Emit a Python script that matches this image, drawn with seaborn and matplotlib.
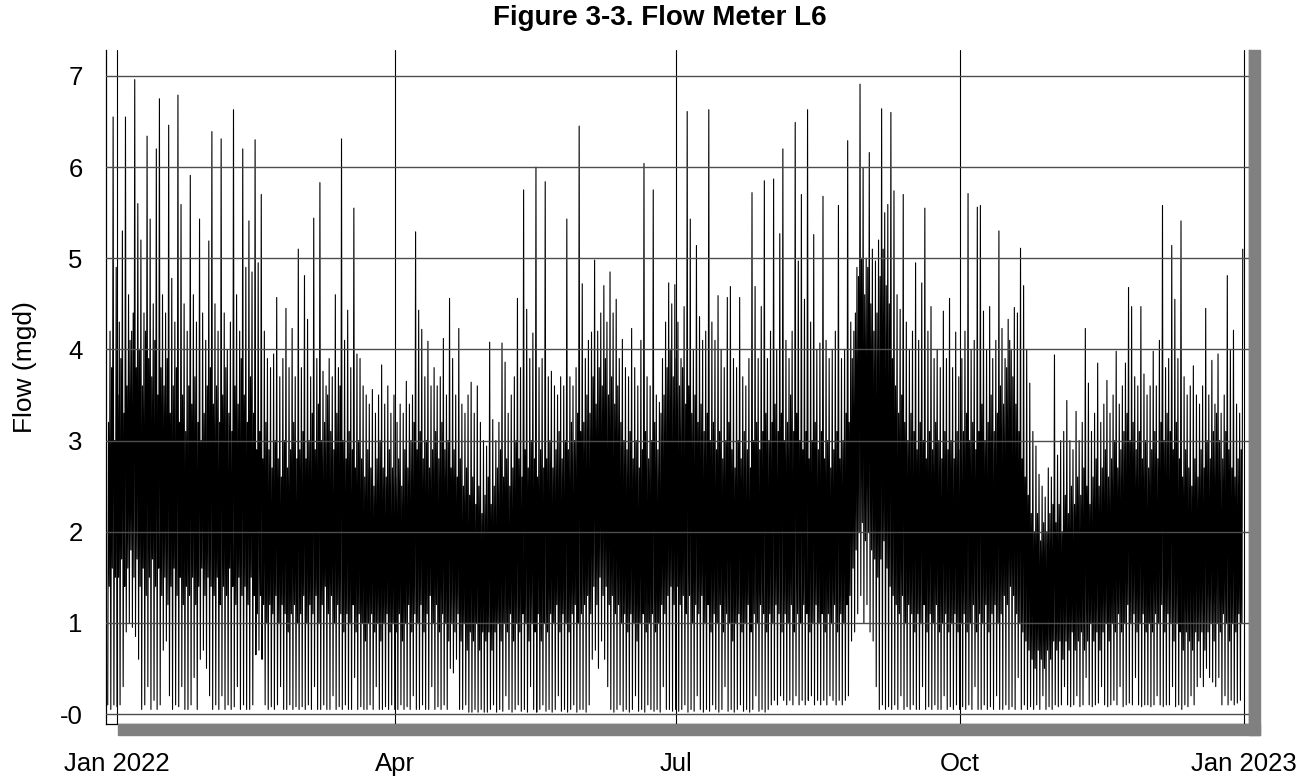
import matplotlib
matplotlib.use("Agg")
import matplotlib.pyplot as plt
import matplotlib.dates as mdates
from matplotlib.patches import Rectangle
from matplotlib.ticker import MultipleLocator, FuncFormatter
import seaborn as sns
import pandas as pd

# ---------------- data ----------------
start_date = "2021-12-29"

# daily maximum flow (mgd)
peak_dec21 = [4.2, 6.55, 4.9]
peak_jan = [4.3, 5.3, 6.55, 4.6, 4.2, 6.96, 5.6, 5.2, 4.4, 6.34, 5.43, 4.5, 6.2, 6.75, 4.6, 4.4,
            6.46, 4.78, 4.3, 6.79, 5.59, 4.5, 4.2, 5.91, 4.6, 4.3, 5.43, 4.4, 4.1, 5.19, 6.39]
peak_feb = [4.5, 4.2, 6.31, 4.4, 4.0, 4.3, 6.63, 4.6, 4.2, 6.2, 4.9, 5.41, 4.85, 6.3, 4.95, 5.7,
            4.2, 3.9, 3.8, 3.95, 4.57, 3.7, 3.9, 4.45, 3.8, 4.23, 3.7, 5.1]
peak_mar = [3.8, 4.81, 4.33, 3.7, 5.44, 3.9, 5.83, 3.76, 3.6, 3.9, 3.7, 4.6, 3.8, 6.31, 4.1, 4.43,
            3.8, 5.55, 3.95, 3.9, 3.6, 3.5, 3.4, 3.56, 3.3, 3.5, 3.83, 3.4, 3.6, 3.3, 3.5]
peak_apr = [3.2, 3.4, 3.3, 3.65, 3.4, 3.5, 5.29, 4.43, 4.22, 3.7, 4.09, 3.6, 3.8, 3.6, 3.7, 4.12,
            3.5, 4.56, 3.9, 3.5, 4.23, 3.4, 3.3, 3.5, 3.64, 3.3, 3.6, 3.2, 3.0, 2.94]
peak_may = [4.08, 3.23, 3.0, 3.2, 4.07, 3.86, 3.3, 3.5, 3.7, 4.56, 3.8, 5.75, 4.44, 3.9, 4.18, 6.0,
            3.8, 3.9, 5.84, 3.7, 3.76, 3.6, 3.5, 3.7, 3.6, 5.43, 3.7, 3.6, 3.8, 6.45, 4.72]
peak_jun = [3.9, 4.1, 4.19, 4.98, 4.2, 4.4, 4.7, 4.3, 4.85, 4.4, 4.55, 3.9, 4.11, 3.8, 3.7, 4.23,
            3.8, 3.6, 4.1, 6.04, 3.7, 3.6, 5.75, 3.5, 3.42, 3.9, 4.3, 4.73, 4.5, 4.71]
peak_jul = [4.3, 3.9, 4.47, 6.61, 5.43, 4.0, 5.14, 4.36, 4.1, 4.2, 6.63, 4.3, 4.1, 4.59, 4.0, 3.8,
            4.57, 4.69, 3.9, 3.8, 4.57, 3.7, 3.6, 3.9, 5.72, 4.69, 3.9, 4.47, 5.85, 3.9, 4.2]
peak_aug = [5.87, 4.0, 5.27, 6.2, 4.1, 3.9, 4.2, 6.49, 4.97, 5.7, 4.55, 6.63, 4.3, 5.26, 4.0, 4.07,
            5.68, 4.1, 3.9, 4.0, 4.2, 5.58, 3.9, 4.0, 6.29, 4.3, 4.2, 4.9, 6.91, 5.99, 5.0]
peak_sep = [6.16, 5.1, 4.97, 5.2, 6.64, 5.5, 5.59, 6.6, 5.74, 4.6, 4.44, 5.7, 4.3, 4.0, 4.2, 4.95,
            4.1, 4.73, 5.55, 4.2, 4.47, 3.9, 4.0, 3.8, 4.42, 3.9, 4.56, 3.8, 4.19, 3.7]
peak_oct = [3.9, 4.2, 5.71, 4.0, 4.1, 5.56, 5.58, 4.42, 4.0, 4.47, 3.9, 4.1, 5.3, 4.23, 3.9, 4.33,
            4.0, 4.46, 4.4, 5.11, 4.7, 4.0, 3.63, 3.1, 2.94, 2.63, 2.5, 2.38, 2.7, 2.6, 3.94]
peak_nov = [2.84, 3.0, 3.1, 3.44, 3.0, 2.9, 3.32, 3.0, 3.2, 4.23, 3.63, 3.1, 3.3, 3.85, 3.2, 3.4,
            3.66, 3.3, 3.5, 3.98, 3.4, 3.6, 3.85, 4.68, 4.47, 3.7, 3.6, 4.47, 3.73, 3.5]
peak_dec = [3.6, 3.98, 3.6, 4.1, 5.58, 3.8, 3.9, 5.14, 4.55, 3.9, 5.41, 3.7, 3.5, 3.6, 3.82, 3.5,
            3.4, 3.6, 4.45, 3.5, 3.88, 3.4, 3.95, 3.3, 3.5, 4.81, 4.0, 4.21, 3.4, 3.3, 5.1]

# daily minimum flow (mgd)
low_dec21 = [0.1, 0.05, 0.1]
low_jan = [0.08, 0.1, 0.3, 0.9, 1.0, 0.95, 0.85, 0.6, 0.05, 0.1, 0.3, 0.05, 0.15, 0.05, 0.1, 0.7,
           0.8, 0.2, 0.05, 0.1, 0.08, 0.3, 0.05, 0.05, 0.1, 0.4, 0.05, 0.6, 0.7, 0.5, 0.2]
low_feb = [0.05, 0.1, 0.05, 0.2, 0.05, 0.1, 0.05, 0.08, 0.3, 0.05, 0.1, 0.05, 0.05, 0.1, 0.65, 0.7,
           0.6, 0.1, 0.05, 0.08, 0.05, 0.1, 0.3, 0.05, 0.05, 0.1, 0.05, 0.08]
low_mar = [0.05, 0.08, 0.05, 0.1, 0.05, 0.3, 0.05, 0.05, 0.1, 0.05, 0.05, 0.2, 0.05, 0.08, 0.05, 0.1,
           0.05, 0.05, 0.4, 0.05, 0.08, 0.05, 0.05, 0.1, 0.05, 0.3, 0.05, 0.05, 0.08, 0.05, 0.1]
low_apr = [0.05, 0.05, 0.1, 0.05, 0.08, 0.05, 0.2, 0.05, 0.05, 0.1, 0.05, 0.05, 0.3, 0.05, 0.08, 0.05,
           0.1, 0.05, 0.5, 0.45, 0.6, 0.05, 0.05, 0.1, 0.02, 0.02, 0.05, 0.02, 0.05, 0.02]
low_may = [0.02, 0.05, 0.1, 0.02, 0.05, 0.03, 0.2, 0.05, 0.02, 0.05, 0.1, 0.03, 0.05, 0.02, 0.3, 0.05,
           0.02, 0.05, 0.1, 0.03, 0.05, 0.02, 0.05, 0.2, 0.03, 0.05, 0.02, 0.05, 0.1, 0.02, 0.05]
low_jun = [0.05, 0.02, 0.1, 0.6, 0.7, 0.5, 0.8, 0.6, 0.3, 0.05, 0.02, 0.05, 0.1, 0.03, 0.05, 0.02,
           0.05, 0.2, 0.03, 0.05, 0.02, 0.1, 0.05, 0.03, 0.05, 0.02, 0.3, 0.05, 0.05, 0.03]
low_jul = [0.05, 0.03, 0.05, 0.1, 0.02, 0.05, 0.03, 0.2, 0.05, 0.02, 0.05, 0.03, 0.1, 0.05, 0.02, 0.05,
           0.3, 0.03, 0.05, 0.02, 0.05, 0.1, 0.03, 0.05, 0.02, 0.05, 0.2, 0.03, 0.05, 0.02, 0.05]
low_aug = [0.1, 0.15, 0.1, 0.2, 0.15, 0.1, 0.15, 0.1, 0.2, 0.1, 0.15, 0.1, 0.15, 0.2, 0.1, 0.15,
           0.1, 0.15, 0.1, 0.2, 0.15, 0.1, 0.15, 0.1, 0.15, 0.2, 0.8, 0.9, 1.1, 1.3, 1.0]
low_sep = [1.2, 0.9, 0.8, 0.3, 0.05, 0.1, 0.05, 0.08, 0.05, 0.1, 0.05, 0.2, 0.05, 0.08, 0.05, 0.1,
           0.05, 0.05, 0.3, 0.05, 0.08, 0.05, 0.1, 0.05, 0.05, 0.2, 0.05, 0.08, 0.05, 0.1]
low_oct = [0.05, 0.08, 0.05, 0.1, 0.05, 0.3, 0.05, 0.05, 0.1, 0.05, 0.08, 0.05, 0.2, 0.05, 0.05, 0.1,
           0.05, 0.08, 0.05, 0.4, 0.05, 0.1, 0.05, 0.08, 0.05, 0.1, 0.05, 0.2, 0.05, 0.08, 0.05]
low_nov = [0.1, 0.08, 0.1, 0.3, 0.1, 0.08, 0.1, 0.2, 0.08, 0.1, 0.4, 0.1, 0.08, 0.1, 0.12, 0.3,
           0.1, 0.08, 0.1, 0.15, 0.1, 0.3, 0.08, 0.1, 0.12, 0.1, 0.4, 0.1, 0.08, 0.1]
low_dec = [0.1, 0.08, 0.1, 0.2, 0.1, 0.08, 0.1, 0.1, 0.3, 0.08, 0.1, 0.05, 0.1, 0.08, 0.2, 0.1,
           0.3, 0.4, 0.3, 0.5, 0.4, 0.35, 0.3, 0.4, 0.1, 0.2, 0.1, 0.15, 0.1, 0.12, 0.15]

# daily upper edge of the dense daytime band (mgd)
band_hi_dec21 = [3.2, 3.8, 3.0]
band_hi_jan = [3.5, 3.9, 3.3, 3.6, 4.1, 4.4, 3.8, 4.0, 3.6, 4.2, 3.9, 3.7, 4.1, 3.5, 3.8, 3.6,
               3.9, 3.3, 3.6, 3.8, 3.2, 3.5, 3.1, 3.6, 3.4, 3.7, 3.2, 3.0, 3.3, 3.6, 3.8]
band_hi_feb = [3.4, 3.6, 3.2, 3.5, 3.8, 3.3, 3.1, 3.6, 3.4, 3.9, 3.5, 3.2, 3.7, 3.3, 2.9, 3.1,
               2.8, 3.2, 2.9, 2.7, 3.0, 2.8, 2.6, 3.0, 2.7, 2.9, 3.2, 2.8]
band_hi_mar = [2.9, 3.1, 2.8, 3.0, 3.3, 2.9, 3.4, 3.0, 3.2, 3.5, 3.1, 2.9, 3.3, 3.6, 3.0, 2.8,
               3.1, 2.9, 2.7, 3.0, 2.8, 2.6, 2.9, 2.7, 2.5, 2.8, 3.0, 2.7, 2.6, 2.9, 2.7]
band_hi_apr = [2.6, 2.8, 2.5, 2.9, 2.7, 3.0, 3.2, 2.9, 3.1, 2.8, 3.0, 2.7, 2.9, 3.1, 2.8, 3.2,
               2.9, 3.0, 2.7, 2.9, 2.6, 2.8, 2.5, 2.7, 2.4, 2.6, 2.3, 2.5, 2.2, 2.4]
band_hi_may = [2.6, 2.3, 2.5, 2.7, 2.9, 2.6, 2.8, 2.5, 2.7, 3.0, 2.8, 2.6, 2.9, 2.7, 3.0, 2.8,
               2.6, 2.9, 2.7, 2.8, 3.0, 2.7, 2.9, 3.1, 2.8, 3.0, 2.9, 3.2, 3.0, 3.3, 3.1]
band_hi_jun = [3.2, 3.5, 3.3, 3.7, 3.4, 3.8, 3.6, 3.9, 3.5, 3.7, 3.4, 3.6, 3.2, 3.0, 2.9, 3.1,
               2.8, 3.0, 2.7, 2.9, 3.1, 2.8, 3.0, 3.2, 2.9, 3.3, 3.5, 3.8, 4.0, 3.7]
band_hi_jul = [3.9, 3.6, 3.8, 3.4, 3.6, 3.3, 3.5, 3.2, 3.4, 3.1, 3.3, 3.0, 3.2, 2.9, 3.1, 2.8,
               3.0, 3.2, 2.9, 2.7, 3.0, 2.8, 3.1, 2.9, 2.7, 3.0, 3.2, 2.9, 3.1, 3.3, 3.0]
band_hi_aug = [3.2, 3.4, 3.1, 3.3, 3.0, 3.2, 3.5, 3.1, 3.3, 3.0, 2.9, 3.1, 2.8, 3.0, 3.2, 2.9,
               3.1, 2.8, 3.0, 2.7, 2.9, 3.1, 2.8, 3.0, 3.3, 3.2, 3.9, 4.4, 4.8, 5.0, 4.6]
band_hi_sep = [4.9, 4.5, 4.2, 4.4, 4.8, 5.1, 4.7, 4.5, 3.9, 3.6, 3.3, 3.5, 3.2, 3.0, 3.3, 3.1,
               2.9, 3.2, 3.0, 2.8, 3.1, 2.9, 3.2, 3.0, 2.8, 3.1, 2.9, 3.0, 2.8, 3.1]
band_hi_oct = [2.9, 3.1, 3.3, 3.0, 3.2, 2.9, 3.1, 3.4, 3.0, 3.2, 3.5, 3.1, 3.3, 3.6, 3.4, 3.8,
               4.1, 3.7, 3.4, 3.1, 2.8, 2.6, 2.4, 2.2, 2.0, 2.2, 1.9, 2.1, 2.0, 2.2, 2.3]
band_hi_nov = [2.1, 2.3, 2.0, 2.4, 2.2, 2.5, 2.3, 2.6, 2.4, 2.7, 2.5, 2.3, 2.6, 2.8, 2.5, 2.7,
               2.9, 2.6, 2.8, 3.0, 2.7, 2.9, 3.1, 3.3, 3.0, 3.2, 2.9, 3.1, 2.8, 3.0]
band_hi_dec = [2.7, 2.9, 3.1, 2.8, 3.2, 3.0, 3.3, 3.1, 2.9, 3.2, 2.8, 2.6, 2.9, 2.7, 2.5, 2.8,
               2.6, 2.9, 2.7, 3.0, 2.8, 3.1, 3.3, 3.0, 2.8, 3.1, 2.9, 2.7, 2.6, 2.8, 2.9]

# daily lower edge of the dense daytime band (mgd)
band_lo_dec21 = [1.4, 1.6, 1.5]
band_lo_jan = [1.5, 1.7, 1.4, 1.6, 1.8, 1.5, 1.7, 1.4, 1.6, 1.3, 1.5, 1.7, 1.4, 1.6, 1.3, 1.5,
               1.2, 1.4, 1.6, 1.3, 1.5, 1.2, 1.4, 1.3, 1.5, 1.2, 1.4, 1.6, 1.3, 1.5, 1.4]
band_lo_feb = [1.3, 1.5, 1.2, 1.4, 1.3, 1.6, 1.4, 1.2, 1.5, 1.3, 1.4, 1.2, 1.5, 1.3, 1.1, 1.3,
               1.2, 1.0, 1.2, 1.1, 1.3, 1.0, 1.2, 1.1, 0.9, 1.1, 1.2, 1.0]
band_lo_mar = [1.1, 1.3, 1.0, 1.2, 1.1, 1.3, 1.0, 1.2, 1.4, 1.1, 1.3, 1.0, 1.2, 1.1, 0.9, 1.1,
               1.0, 1.2, 0.9, 1.1, 1.0, 0.8, 1.0, 1.1, 0.9, 1.0, 0.8, 1.0, 1.1, 0.9, 1.0]
band_lo_apr = [0.9, 1.1, 0.8, 1.0, 1.2, 0.9, 1.1, 1.0, 1.2, 0.9, 1.1, 1.3, 1.0, 1.2, 0.9, 1.1,
               1.0, 0.8, 1.0, 0.9, 1.1, 0.8, 1.0, 0.7, 0.9, 0.8, 1.0, 0.7, 0.9, 0.8]
band_lo_may = [0.9, 0.7, 0.9, 1.0, 0.8, 1.0, 0.9, 1.1, 0.8, 1.0, 0.9, 1.1, 1.0, 0.8, 1.0, 0.9,
               1.1, 0.8, 1.0, 0.9, 1.1, 1.0, 1.2, 0.9, 1.1, 1.0, 0.9, 1.1, 1.2, 1.0, 1.1]
band_lo_jun = [1.2, 1.3, 1.1, 1.4, 1.2, 1.5, 1.3, 1.4, 1.2, 1.3, 1.1, 1.2, 1.0, 1.1, 0.9, 1.1,
               1.0, 0.8, 1.0, 1.1, 0.9, 1.0, 1.1, 0.9, 1.0, 1.2, 1.1, 1.3, 1.4, 1.2]
band_lo_jul = [1.4, 1.2, 1.3, 1.1, 1.3, 1.0, 1.2, 1.1, 1.3, 1.0, 1.2, 0.9, 1.1, 1.0, 1.2, 0.9,
               1.1, 1.0, 0.8, 1.0, 1.1, 0.9, 1.0, 1.2, 0.9, 1.1, 1.0, 1.2, 1.1, 0.9, 1.1]
band_lo_aug = [1.0, 1.2, 1.1, 0.9, 1.1, 1.0, 1.2, 0.9, 1.1, 1.0, 1.2, 1.1, 0.9, 1.0, 1.2, 1.0,
               1.1, 0.9, 1.1, 1.0, 1.2, 0.9, 1.1, 1.0, 1.2, 1.3, 1.6, 1.8, 2.0, 2.1, 1.9]
band_lo_sep = [2.0, 1.8, 1.7, 1.5, 1.7, 1.9, 1.6, 1.4, 1.3, 1.2, 1.1, 1.3, 1.0, 1.2, 1.1, 0.9,
               1.1, 1.0, 1.2, 0.9, 1.1, 1.0, 1.2, 0.9, 1.0, 1.1, 0.9, 1.0, 1.1, 0.9]
band_lo_oct = [1.0, 1.1, 0.9, 1.0, 1.2, 0.9, 1.1, 1.0, 1.2, 0.9, 1.1, 1.2, 1.0, 1.1, 1.3, 1.2,
               1.4, 1.3, 1.1, 1.0, 0.9, 0.8, 0.7, 0.6, 0.5, 0.7, 0.6, 0.5, 0.7, 0.6, 0.8]
band_lo_nov = [0.7, 0.8, 0.6, 0.8, 0.7, 0.9, 0.7, 0.8, 0.9, 0.7, 0.8, 1.0, 0.8, 0.9, 0.7, 0.9,
               1.0, 0.8, 1.0, 0.9, 1.1, 0.9, 1.0, 1.2, 1.0, 1.1, 0.9, 1.0, 1.1, 0.9]
band_lo_dec = [1.0, 0.9, 1.1, 1.0, 1.2, 0.9, 1.1, 1.0, 0.8, 1.0, 0.9, 0.7, 0.9, 0.8, 0.7, 0.9,
               0.8, 0.9, 0.7, 0.9, 1.0, 0.8, 1.0, 0.9, 1.1, 1.0, 0.8, 1.0, 0.9, 1.1, 1.0]

y_ticks = [0, 1, 2, 3, 4, 5, 6, 7]
y_tick_labels = ["-0", "1", "2", "3", "4", "5", "6", "7"]

# ---------------- assemble the series ----------------
def cat(*parts):
    out = []
    for p in parts:
        out += p
    return out

peaks = cat(peak_dec21, peak_jan, peak_feb, peak_mar, peak_apr, peak_may, peak_jun,
            peak_jul, peak_aug, peak_sep, peak_oct, peak_nov, peak_dec)
lows = cat(low_dec21, low_jan, low_feb, low_mar, low_apr, low_may, low_jun,
           low_jul, low_aug, low_sep, low_oct, low_nov, low_dec)
his = cat(band_hi_dec21, band_hi_jan, band_hi_feb, band_hi_mar, band_hi_apr, band_hi_may,
          band_hi_jun, band_hi_jul, band_hi_aug, band_hi_sep, band_hi_oct, band_hi_nov, band_hi_dec)
los = cat(band_lo_dec21, band_lo_jan, band_lo_feb, band_lo_mar, band_lo_apr, band_lo_may,
          band_lo_jun, band_lo_jul, band_lo_aug, band_lo_sep, band_lo_oct, band_lo_nov, band_lo_dec)
n_days = min(len(peaks), len(lows), len(his), len(los))

# four readings per day: night low, morning high, midday dip, evening peak
times, flows = [], []
t0 = pd.Timestamp(start_date)
for d in range(n_days):
    seq = [lows[d], his[d], los[d], peaks[d]]
    for k, v in enumerate(seq):
        times.append(t0 + pd.Timedelta(days=d, hours=6 * k))
        flows.append(v)
df = pd.DataFrame({"time": times, "flow": flows})

# ---------------- style ----------------
sns.set_style("white")
plt.rcParams["font.family"] = ["Liberation Sans", "DejaVu Sans"]
plt.rcParams["text.color"] = "black"
plt.rcParams["xtick.color"] = "black"
plt.rcParams["ytick.color"] = "black"

W, H = 1312, 783
fig = plt.figure(figsize=(W / 100, H / 100), dpi=100)
ax = fig.add_axes([106 / W, (H - 724) / H, (1249 - 106) / W, (724 - 50) / H])

sns.lineplot(data=df, x="time", y="flow", ax=ax, color="black", linewidth=0.8,
             estimator=None, sort=False, zorder=1.5)

x_left = mdates.date2num(pd.Timestamp("2022-01-01")) - 3.56
x_right = mdates.date2num(pd.Timestamp("2023-01-01")) + 1.78
ax.set_xlim(x_left, x_right)
ax.set_ylim(-0.1097, 7.285)

# x axis
ax.xaxis.set_major_locator(mdates.MonthLocator(bymonth=[1, 4, 7, 10]))
ax.xaxis.set_minor_locator(mdates.MonthLocator())
def xfmt(v, pos):
    dt = mdates.num2date(v)
    if dt.month == 1:
        return "Jan %d" % dt.year
    return dt.strftime("%b")
ax.xaxis.set_major_formatter(FuncFormatter(xfmt))
ax.tick_params(axis="x", which="major", direction="out", length=15.1, width=0.8,
               color="black", labelcolor="black", labelsize=18.5, pad=5)
ax.tick_params(axis="x", which="minor", direction="in", length=7.2, width=0.8, color="#333333")

# y axis
ax.set_yticks(y_ticks)
ax.set_yticklabels(y_tick_labels)
ax.yaxis.set_minor_locator(MultipleLocator(0.2))
ax.tick_params(axis="y", which="major", direction="out", length=7.9, width=0.8,
               color="black", labelcolor="black", labelsize=18.5, pad=9)
ax.tick_params(axis="y", which="minor", direction="in", length=8.6, width=0.8, color="black")

ax.set_axisbelow(False)
ax.grid(axis="x", which="major", color="black", linewidth=0.8)
ax.grid(axis="y", which="major", color="#4d4d4d", linewidth=1.0)
ax.set_xlabel("")
ax.set_ylabel("")

for s in ["left", "right", "bottom"]:
    ax.spines[s].set_visible(True)
    ax.spines[s].set_color("black")
    ax.spines[s].set_linewidth(0.9)
ax.spines["top"].set_visible(False)

# drop shadow
fig.patches.append(Rectangle((1249 / W, (H - 735) / H), 11 / W, (735 - 50) / H,
                             transform=fig.transFigure, color="#808080", zorder=0))
fig.patches.append(Rectangle((118 / W, (H - 735) / H), (1260 - 118) / W, 11 / H,
                             transform=fig.transFigure, color="#808080", zorder=0))

fig.text(660 / W, 1 - 18 / H, "Figure 3-3. Flow Meter L6", ha="center", va="center",
         fontsize=20, fontweight="bold", color="black")
fig.text(25 / W, 1 - 367 / H, "Flow (mgd)", ha="center", va="center", rotation=90,
         fontsize=19, color="black")

fig.savefig("out.png", dpi=100)
